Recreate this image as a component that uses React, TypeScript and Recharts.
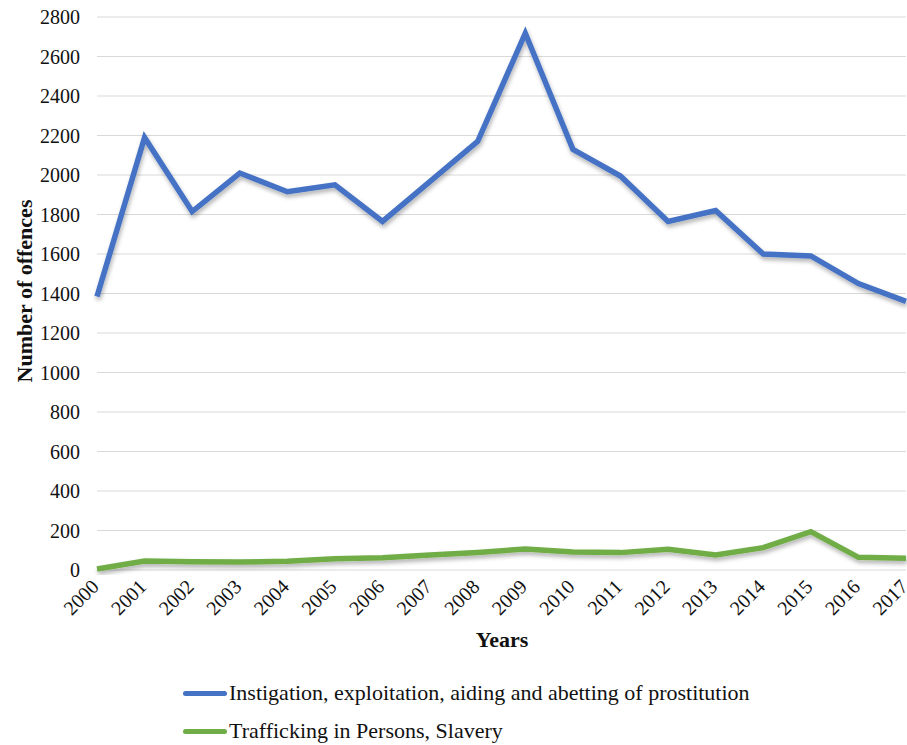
import React from 'react';
import { LineChart, Line, XAxis, YAxis, CartesianGrid, Label } from 'recharts';

const years = [
  '2000', '2001', '2002', '2003', '2004', '2005', '2006', '2007', '2008',
  '2009', '2010', '2011', '2012', '2013', '2014', '2015', '2016', '2017',
];
const prostitution = [
  1385, 2190, 1815, 2010, 1915, 1950, 1765, 1968, 2170,
  2718, 2130, 1995, 1765, 1820, 1600, 1590, 1450, 1360,
];
const trafficking = [
  5, 45, 42, 40, 44, 57, 62, 76, 89,
  106, 91, 88, 105, 76, 113, 194, 64, 59,
];
const yTicks = [0, 200, 400, 600, 800, 1000, 1200, 1400, 1600, 1800, 2000, 2200, 2400, 2600, 2800];
const seriesNames = [
  'Instigation, exploitation, aiding and abetting of prostitution',
  'Trafficking in Persons, Slavery',
];
const seriesColors = ['#4472C4', '#70AD47'];

const data = years.map((year, i) => ({
  year,
  prostitution: prostitution[i],
  trafficking: trafficking[i],
}));

const FONT = '"Liberation Serif", "Times New Roman", Times, serif';

const YearTick = (props: any) => {
  const { x, y, payload } = props;
  return (
    <g transform={`translate(${x + 3},${y + 18})`}>
      <text textAnchor="end" transform="rotate(-45)" fontSize={20} fill="#111" style={{ fontFamily: FONT }}>
        {payload.value}
      </text>
    </g>
  );
};

const App: React.FC = () => {
  return (
    <div style={{ position: 'absolute', left: 0, top: 0, width: 907, height: 745, overflow: 'hidden', background: '#fff', fontFamily: FONT }}>
      <LineChart width={907} height={660} data={data} margin={{ top: 17, right: 1, left: 0, bottom: 0 }}>
        <defs>
          <filter id="lineShadow" x="-5%" y="-5%" width="110%" height="120%">
            <feDropShadow dx="1" dy="3" stdDeviation="2" floodColor="#000" floodOpacity="0.3" />
          </filter>
        </defs>
        <CartesianGrid vertical={false} stroke="#d9d9d9" strokeWidth={1.2} />
        <XAxis
          dataKey="year"
          interval={0}
          axisLine={false}
          tickLine={false}
          tickSize={0}
          tickMargin={0}
          height={90}
          tick={<YearTick />}
        >
          <Label
            content={() => (
              <text x={502} y={647} textAnchor="middle" fontSize={22} fontWeight="bold" fill="#111" style={{ fontFamily: FONT }}>
                Years
              </text>
            )}
          />
        </XAxis>
        <YAxis
          width={97}
          domain={[0, 2800]}
          ticks={yTicks}
          axisLine={false}
          tickLine={false}
          tickSize={0}
          tickMargin={17}
          tick={{ fontSize: 20, fill: '#111', style: { fontFamily: FONT } }}
        >
          <Label
            content={() => (
              <text
                x={32}
                y={291}
                transform="rotate(-90, 32, 291)"
                textAnchor="middle"
                fontSize={22}
                fontWeight="bold"
                fill="#111"
                style={{ fontFamily: FONT }}
              >
                Number of offences
              </text>
            )}
          />
        </YAxis>
        <Line
          type="linear"
          dataKey="prostitution"
          name={seriesNames[0]}
          stroke={seriesColors[0]}
          strokeWidth={5.5}
          dot={false}
          style={{ filter: 'url(#lineShadow)' }}
          isAnimationActive={false}
        />
        <Line
          type="linear"
          dataKey="trafficking"
          name={seriesNames[1]}
          stroke={seriesColors[1]}
          strokeWidth={5.5}
          dot={false}
          style={{ filter: 'url(#lineShadow)' }}
          isAnimationActive={false}
        />
      </LineChart>

      {/* legend */}
      {seriesNames.map((name, i) => (
        <div
          key={name}
          style={{ position: 'absolute', left: 183, top: 679 + i * 38, height: 28, display: 'flex', alignItems: 'center' }}
        >
          <div style={{ width: 44, height: 5, borderRadius: 3, background: seriesColors[i], marginRight: 2 }} />
          <span style={{ fontSize: 22, color: '#111', whiteSpace: 'nowrap' }}>{name}</span>
        </div>
      ))}
    </div>
  );
};

export default App;
